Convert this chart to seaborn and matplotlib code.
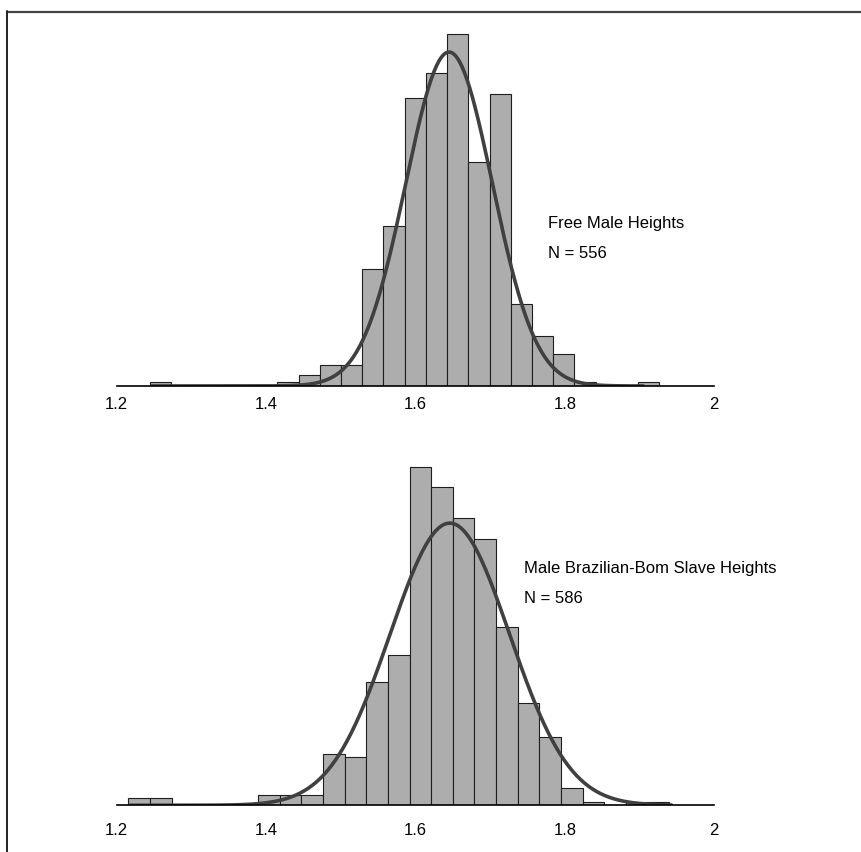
import numpy as np
import pandas as pd
import matplotlib.pyplot as plt
from matplotlib.lines import Line2D
import seaborn as sns

W, H = 862, 852

# free males: bins (left edge, width) and counts per bin
free_start, free_width = 1.2446, 0.02841
free_counts = [1, 0, 0, 0, 0, 0, 1, 3, 6, 6, 33, 45, 81, 88, 99, 63, 82, 23, 14, 9, 1, 0, 0, 1]
free_mean, free_sd, free_peak = 1.645, 0.058, 93.8
free_span = (1.247, 1.905)
free_label = "Free Male Heights"
free_n = 556

# brazilian-born slaves
slave_start, slave_width = 1.2155, 0.02897
slave_counts = [2, 2, 0, 0, 0, 0, 3, 3, 3, 15, 14, 36, 44, 99, 93, 84, 78, 52, 30, 20, 5, 1, 0, 1, 1]
slave_mean, slave_sd, slave_peak = 1.646, 0.080, 82.5
slave_span = (1.218, 1.943)
slave_label = "Male Brazilian-Bom Slave Heights"
slave_n = 586

ticks = [1.2, 1.4, 1.6, 1.8, 2.0]
tick_labels = ["1.2", "1.4", "1.6", "1.8", "2"]

sns.set_style("white")
plt.rcParams['font.family'] = ['Liberation Sans', 'DejaVu Sans']
plt.rcParams['text.color'] = 'black'

fig = plt.figure(figsize=(W / 100, H / 100), dpi=100)


def panel(base_px, height_px, px_per_count, pad, start, width, counts, mean, sd, peak, span):
    ax = fig.add_axes([116.7 / W, 1 - base_px / H, 597.5 / W, height_px / H])
    edges = start + width * np.arange(len(counts) + 1)
    df = pd.DataFrame({"height": edges[:-1] + width / 2, "count": counts})
    # bins as a plain list, seaborn compares it against "auto"
    sns.histplot(data=df, x="height", weights="count", bins=edges.tolist(), ax=ax,
                 color="#adadad", edgecolor="#1e1e1e", linewidth=0.8, alpha=1)
    xs = np.linspace(span[0], span[1], 400)
    ys = peak * np.exp(-0.5 * ((xs - mean) / sd) ** 2)
    sns.lineplot(x=xs, y=ys, ax=ax, color="#404040", linewidth=2.6)
    ax.set_xlim(1.2, 2.0)
    ax.set_ylim(0, height_px / px_per_count)
    ax.set_xticks(ticks)
    ax.set_xticklabels(tick_labels)
    ax.set_yticks([])
    ax.set_xlabel("")
    ax.set_ylabel("")
    for s in ["top", "left", "right"]:
        ax.spines[s].set_visible(False)
    ax.spines["bottom"].set_color("black")
    ax.spines["bottom"].set_linewidth(1.2)
    ax.tick_params(axis="x", length=0, pad=pad, labelsize=12, colors="black")
    return ax


panel(386, 366, 3.56, 8, free_start, free_width, free_counts, free_mean, free_sd, free_peak, free_span)
panel(805.3, 365, 3.42, 13, slave_start, slave_width, slave_counts, slave_mean, slave_sd, slave_peak, slave_span)

fig.text(548 / W, 1 - 228 / H, free_label, fontsize=12, va="baseline", color="black")
fig.text(548 / W, 1 - 258 / H, f"N = {free_n}", fontsize=12, va="baseline", color="black")
fig.text(524.5 / W, 1 - 573.3 / H, slave_label, fontsize=12, va="baseline", color="black")
fig.text(524.5 / W, 1 - 603.3 / H, f"N = {slave_n}", fontsize=12, va="baseline", color="black")

# scan frame on top and left
fig.add_artist(Line2D([7 / W, 1], [1 - 11.8 / H] * 2, color="#444444", lw=1.6))
fig.add_artist(Line2D([7.5 / W] * 2, [1 - 11 / H, 0], color="#222222", lw=1.4))

fig.savefig("out.png", dpi=100)
